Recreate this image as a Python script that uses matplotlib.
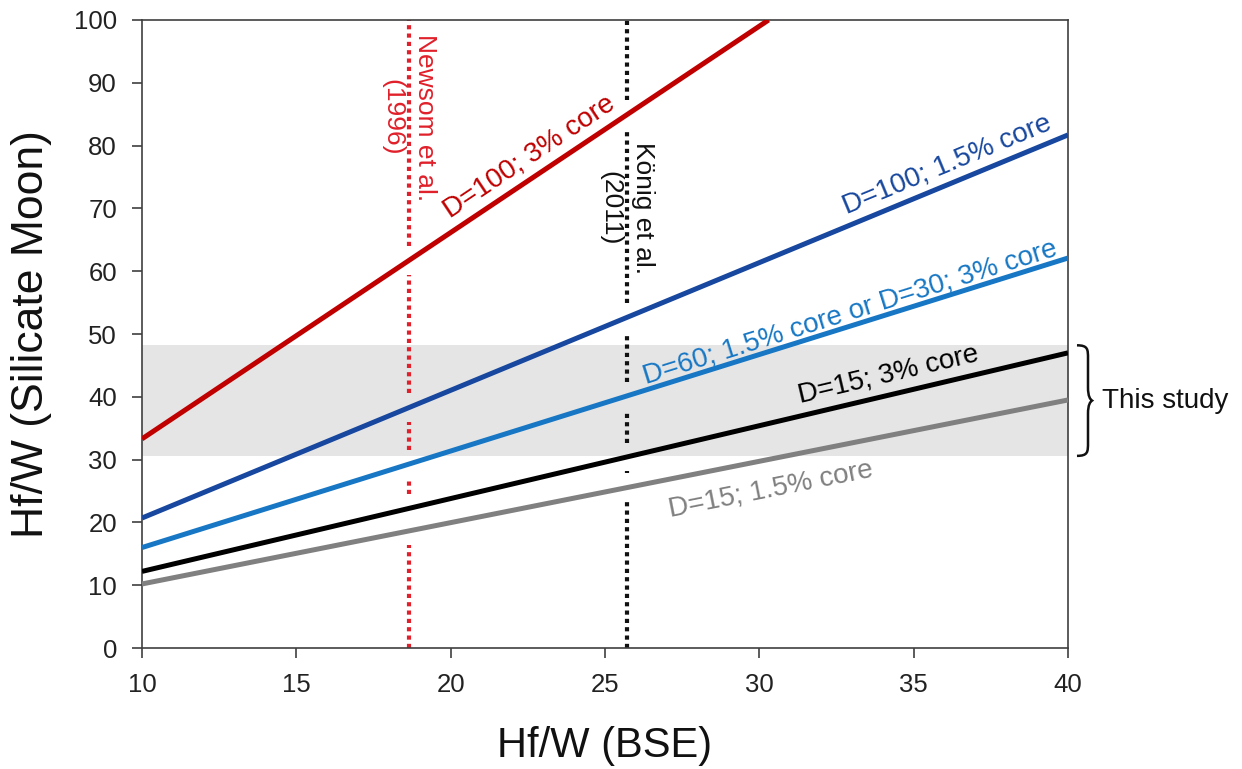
import numpy as np
import matplotlib
matplotlib.use("Agg")
import matplotlib.pyplot as plt
from matplotlib.path import Path
from matplotlib.patches import PathPatch

plt.rcParams["font.family"] = ["Liberation Sans", "DejaVu Sans"]

# Hf/W of the bulk silicate Earth (x) vs. Hf/W of the silicate Moon (y)
bse_red = [10, 30.3]
moon_red = [33.3, 100.0]          # D=100; 3% core
bse = [10, 40]
moon_darkblue = [20.7, 81.7]      # D=100; 1.5% core
moon_lightblue = [16.0, 62.1]     # D=60; 1.5% core or D=30; 3% core
moon_black = [12.2, 47.0]         # D=15; 3% core
moon_gray = [10.2, 39.5]          # D=15; 1.5% core

# previous BSE estimates
newsom_bse = 18.65
konig_bse = 25.7

# range of this study
study_low, study_high = 30.6, 48.2

series = [
    (bse_red, moon_red, "#c00000", "D=100; 3% core", (22.54, 78.2)),
    (bse, moon_darkblue, "#17479e", "D=100; 1.5% core", (36.08, 76.9)),
    (bse, moon_lightblue, "#1777c4", "D=60; 1.5% core or D=30; 3% core", (32.94, 53.5)),
    (bse, moon_black, "#000000", "D=15; 3% core", (34.17, 43.6)),
    (bse, moon_gray, "#808080", "D=15; 1.5% core", (30.38, 25.2)),
]

fig = plt.figure(figsize=(12.42, 7.69), dpi=100)
ax = fig.add_axes([0.1143, 0.1573, 0.7456, 0.8167])
ax.set_xlim(10, 40)
ax.set_ylim(0, 100)

ax.axhspan(study_low, study_high, xmin=0, xmax=1, color="#e5e5e5", lw=0, zorder=0)

for xs, ys, col, lab, (tx, ty) in series:
    ax.plot(xs, ys, color=col, lw=3.6, solid_capstyle="butt", zorder=3)
    slope = (ys[1] - ys[0]) / (xs[1] - xs[0])
    ang = np.degrees(np.arctan(slope))
    ax.text(tx, ty, lab, color=col, fontsize=20, rotation=ang,
            transform_rotates_text=True, rotation_mode="anchor",
            ha="center", va="center", zorder=4)


def dotted_vertical(x, color, half_gap=2.3):
    # vertical reference line, interrupted where the model lines cross it
    cuts = []
    for xs, ys, *_ in series:
        if xs[0] <= x <= xs[1]:
            cuts.append(np.interp(x, xs, ys))
    cuts.sort()
    start = 0.0
    segs = []
    for c in cuts:
        segs.append((start, c - half_gap))
        start = c + half_gap
    segs.append((start, 100.0))
    for a, b in segs:
        if b > a:
            ax.plot([x, x], [a, b], color=color, lw=3.0,
                    linestyle=(0, (1, 1)), dash_capstyle="butt", zorder=2)


dotted_vertical(newsom_bse, "#e0202a")
dotted_vertical(konig_bse, "#111111")

ax.text(newsom_bse, 84.5, "Newsom et al.\n(1996)", color="#e0202a", fontsize=19,
        rotation=270, ha="center", va="center", multialignment="center",
        linespacing=1.45, zorder=4)
ax.text(konig_bse, 70.0, "König et al.\n(2011)", color="#111111", fontsize=19,
        rotation=270, ha="center", va="center", multialignment="center",
        linespacing=1.45, zorder=4)

# curly brace for the range of this study
tr = ax.get_yaxis_transform()
x0, xm, xt = 1.0097, 1.0216, 1.026
mid = (study_low + study_high) / 2
dy = (study_high - study_low) * 0.12
verts = [
    (x0, study_high),
    (xm, study_high), (xm, study_high - dy * 0.3), (xm, study_high - dy),
    (xm, mid + dy),
    (xm, mid + dy * 0.3), (xt - 0.002, mid + 0.2), (xt, mid),
    (xt - 0.002, mid - 0.2), (xm, mid - dy * 0.3), (xm, mid - dy),
    (xm, study_low + dy),
    (xm, study_low + dy * 0.3), (xm, study_low), (x0, study_low),
]
codes = [Path.MOVETO,
         Path.CURVE4, Path.CURVE4, Path.CURVE4,
         Path.LINETO,
         Path.CURVE4, Path.CURVE4, Path.CURVE4,
         Path.CURVE4, Path.CURVE4, Path.CURVE4,
         Path.LINETO,
         Path.CURVE4, Path.CURVE4, Path.CURVE4]
ax.add_patch(PathPatch(Path(verts, codes), transform=tr, fill=False,
                       edgecolor="#111111", lw=1.8, clip_on=False))
ax.text(1.0367, mid, "This study", transform=tr, fontsize=20,
        ha="left", va="center", color="#111111")

ax.set_xticks(np.arange(10, 41, 5))
ax.set_yticks(np.arange(0, 101, 10))
ax.tick_params(axis="both", labelsize=18.5, length=7, width=1.2,
               direction="out", color="#404040", labelcolor="#222222")
ax.tick_params(axis="y", pad=11)
ax.tick_params(axis="x", pad=11)
for sp in ax.spines.values():
    sp.set_color("#404040")
    sp.set_linewidth(1.2)

ax.set_xlabel("Hf/W (BSE)", fontsize=30, labelpad=21, color="#111111")
ax.set_ylabel("Hf/W (Silicate Moon)", fontsize=32, labelpad=16, color="#111111")

fig.savefig("out.png", dpi=100)
